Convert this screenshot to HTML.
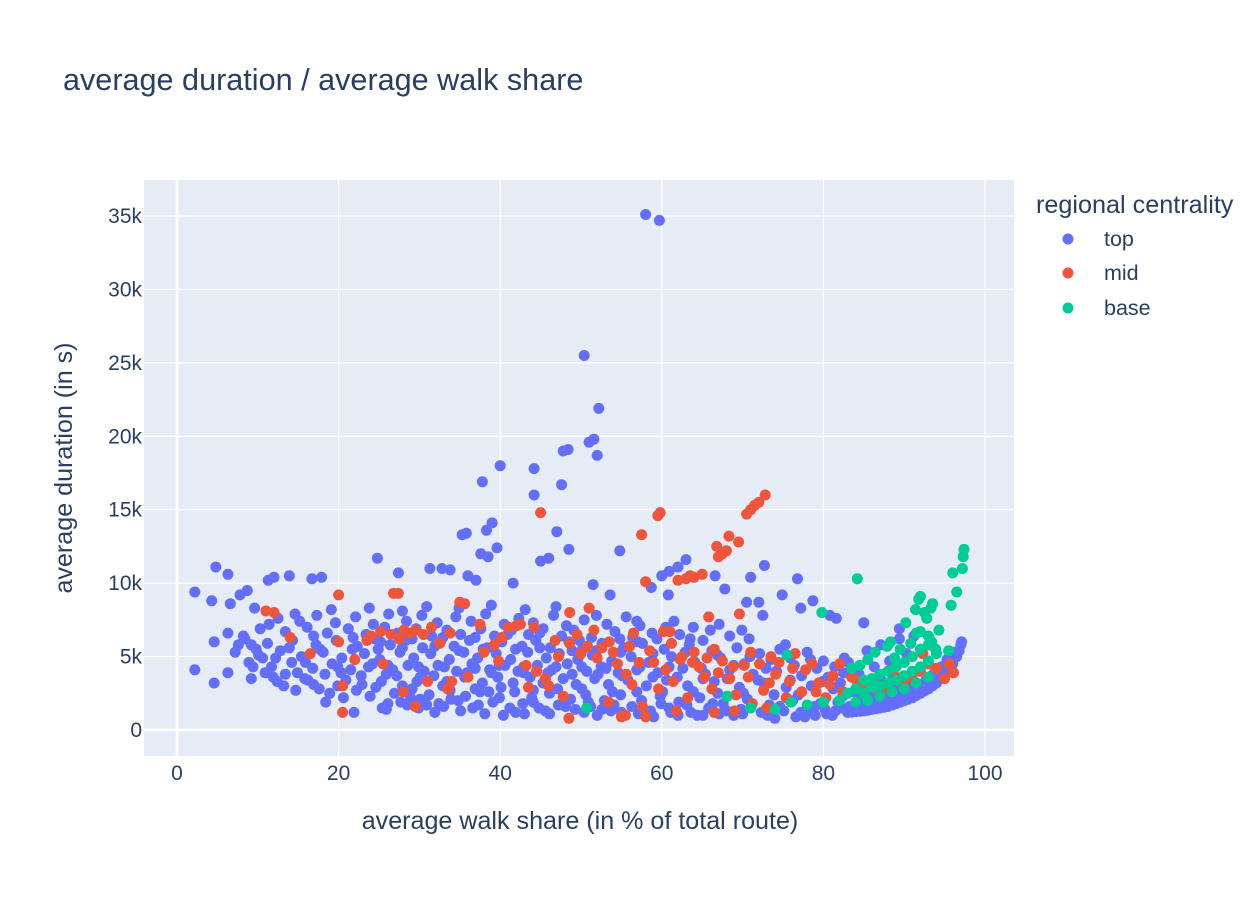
<!DOCTYPE html>
<html><head><meta charset="utf-8">
<style>
body{margin:0;background:#fff;font-family:"Liberation Sans",Arial,sans-serif;}
svg text{font-family:"Liberation Sans",Arial,sans-serif;fill:#2a3f5f;}
</style></head>
<body>
<svg id="chart" width="1260" height="900" xmlns="http://www.w3.org/2000/svg">
<rect width="1260" height="900" fill="#fff"/>
<text x="63" y="90" font-size="30.6">average duration / average walk share</text>
<rect x="144" y="180" width="870" height="576" fill="#e5ecf6"/>
<g id="grid"></g>
<g id="marks"></g>
<g id="ticks"></g>
<text x="580" y="829" font-size="25.1" text-anchor="middle">average walk share (in % of total route)</text>
<text transform="translate(72,468) rotate(-90)" font-size="25.1" text-anchor="middle">average duration (in s)</text>
<g>
<text x="1036" y="213" font-size="25.2">regional centrality</text>
<g><circle cx="1068" cy="239" r="5.5" fill="#636efa"/><text x="1104" y="246" font-size="21.5">top</text></g>
<g><circle cx="1068" cy="273" r="5.5" fill="#EF553B"/><text x="1104" y="280" font-size="21.5">mid</text></g>
<g><circle cx="1068" cy="308" r="5.5" fill="#00cc96"/><text x="1104" y="315" font-size="21.5">base</text></g>
</g>
</svg>
<script>
const xTicks=[0,20,40,60,80,100];
const yTicks=[0,5,10,15,20,25,30,35];
const yTickLabels=["0","5k","10k","15k","20k","25k","30k","35k"];
// values: [walk share %, duration in thousands of s]
const topPts=[[58,35.1],[59.7,34.7],[50.4,25.5],[52.2,21.9],[51.6,19.8],[51,19.6],[52,18.7],[48.4,19.1],[47.8,19],[40,18],[44.2,17.8],[47.6,16.7],[44.2,16],[37.8,16.9],[39,14.1],[38.3,13.6],[35.8,13.4],[35.3,13.3],[37.6,12],[39.6,12.4],[38.5,11.8],[47,13.5],[48.5,12.3],[46,11.7],[45,11.5],[54.8,12.2],[63,11.6],[62,11.1],[60,10.5],[60.9,10.8],[66.6,10.5],[71,10.4],[72.7,11.2],[76.8,10.3],[2.2,9.4],[4.8,11.1],[6.3,10.6],[4.3,8.8],[11.3,10.2],[12,10.4],[13.9,10.5],[16.7,10.3],[17.9,10.4],[24.8,11.7],[27.4,10.7],[31.3,11],[32.8,11],[33.8,10.9],[36,10.5],[37,10.2],[41.6,10],[51.5,9.9],[53.6,9.2],[58.7,9.7],[60.8,9.2],[67.8,9.6],[70.5,8.7],[72,8.7],[74.9,9.2],[77.2,8.3],[78.7,8.8],[80.8,7.8],[81.6,7.6],[85,7.3],[89.4,6.9],[2.2,4.1],[4.6,3.2],[4.6,6],[6.3,6.6],[6.3,3.9],[6.6,8.6],[7.8,9.2],[8.7,9.5],[9.6,8.3],[8.2,6.4],[9.2,5.8],[10.6,4.9],[9.2,3.5],[9.4,4.3],[10.9,3.9],[12.4,3.3],[13.2,3],[14.7,2.7],[16.2,3.4],[18.4,1.9],[20.6,2.2],[21.9,1.2],[25.4,1.5],[25.9,1.4],[28.5,1.7],[30.9,1.7],[33,1.6],[37.3,1.7],[38.6,2.6],[40.4,1],[43,1.1],[45.6,1.3],[50.4,1.2],[52,1],[55,1.2],[59,0.9],[62,1],[64.4,1],[68,1.3],[70,1.1],[74,0.8],[77.7,0.9],[79,1],[80.4,1.1],[81.5,1.3],[72.5,7.8],[66,6.8],[63.5,6.2],[57,6],[75.3,5.8],[78,5.3],[82.6,4.9],[80,4.7],
[12.5,7.6],[15.2,7.4],[17.3,7.8],[19.6,7.3],[22.1,7.7],[24.3,7.2],[26.2,7.9],[28.4,7.4],[30.3,7.8],[32.2,7.3],[34.5,7.7],[36.4,7.4],[38.2,7.9],[40.5,7.2],[42.3,7.6],[44.1,7.3],[46.6,7.8],[48.2,7.1],[50.4,7.5],[53.2,7.2],[55.6,7.7],[57.3,7.1],[60.5,7],
[10.3,6.9],[13.4,6.7],[16.1,7],[18.6,6.6],[21.2,6.9],[23.4,6.5],[25.7,7],[27.3,6.6],[29.6,6.9],[31.5,6.4],[33.4,6.8],[35.1,6.5],[37.6,6.9],[39.3,6.4],[41.4,6.8],[43.5,6.5],[45.3,6.9],[47.6,6.4],[49.1,6.8],[51.3,6.3],[54.2,6.7],[56.4,6.3],[58.8,6.6],[62.2,6.5],[65.1,6.1],[68.4,6.4],[70.8,6.2],
[8.4,6.2],[11.2,5.9],[14.3,6.1],[17.2,5.8],[19.7,6.1],[22.3,5.7],[24.5,6.2],[26.4,5.8],[28.3,6.1],[30.4,5.6],[32.6,6],[34.3,5.7],[36.2,6.1],[38.4,5.6],[40.2,6],[42.7,5.7],[44.4,6.1],[46.2,5.6],[48.5,6],[50.2,5.5],[52.6,5.9],[55.3,5.6],[57.6,5.9],[60.3,5.5],[63.4,5.8],[66.2,5.4],[69.3,5.6],[72.1,5.2],[74.6,5.5],
[7.2,5.3],[10.1,5.1],[12.8,5.4],[15.4,5],[18.1,5.3],[20.4,4.9],[23.2,5.2],[25.1,4.8],[27.6,5.3],[29.3,4.9],[31.4,5.2],[33.7,4.8],[35.5,5.3],[37.2,4.9],[39.5,5.2],[41.3,4.8],[43.4,5.3],[45.7,4.9],[47.3,5.2],[49.6,4.8],[51.4,5.1],[53.8,4.7],[56.2,5],[58.4,4.6],[61.2,5],[64.1,4.6],[67.3,4.9],[70.2,4.5],[73.5,4.8],[76.4,4.4],[79.2,4.2],
[8.9,4.6],[11.7,4.3],[14.2,4.6],[16.8,4.2],[19.2,4.5],[21.5,4.1],[24.2,4.5],[26.7,4.1],[28.6,4.4],[30.6,4],[32.3,4.4],[34.6,4],[36.5,4.5],[38.7,4.1],[40.6,4.4],[42.2,4],[44.6,4.4],[46.4,4.1],[48.3,4.5],[50.7,4],[52.5,4.3],[54.6,3.9],[57.3,4.3],[59.5,3.9],[62.6,4.2],[65.4,3.8],[68.4,4.1],[71.3,3.8],[74.2,4],[77.3,3.7],[80.6,3.6],[82.5,3.9],
[13.4,3.8],[15.8,3.5],[18.3,3.8],[20.9,3.4],[22.8,3.7],[25.3,3.3],[27.2,3.7],[29.7,3.3],[31.8,3.7],[33.4,3.3],[35.6,3.6],[37.8,3.2],[39.7,3.6],[41.6,3.2],[43.7,3.6],[45.3,3.2],[47.8,3.5],[49.4,3.1],[51.7,3.5],[53.4,3.1],[55.8,3.4],[58.1,3],[60.6,3.4],[63.2,3],[66.5,3.3],[69.6,2.9],[72.6,3.2],[75.4,2.9],[78.5,3],[81.2,2.8],
[17.6,2.8],[19.9,3],[22.2,2.7],[24.6,2.9],[26.9,2.5],[29.1,2.8],[31.2,2.4],[33.8,2.7],[35.7,2.3],[37.5,2.6],[39.9,2.2],[41.8,2.6],[43.9,2.2],[46.1,2.5],[48.7,2.1],[50.6,2.4],[52.9,2],[54.9,2.4],[57.5,2],[59.8,2.3],[62.1,1.9],[64.7,2.2],[67.6,1.8],[70.6,2.1],[73.3,1.7],[76.2,2],[78.9,1.6],[81.8,1.9],
[27.7,1.9],[30.1,2.1],[32.4,1.8],[34.8,2],[36.6,1.5],[39.1,1.9],[41.2,1.5],[42.8,1.8],[44.8,1.5],[47.2,1.7],[49.3,1.4],[51.2,1.6],[53.7,1.3],[56.3,1.6],[58.6,1.3],[60.9,1.5],[63.6,1.2],[65.8,1.5],[67.1,1.1],[69.8,1.4],[72.3,1.2],[75.1,1.3],[77.2,1.2],[80.2,1.4],[82.3,1.5],
[11.4,7.2],[14.6,7.9],[16.9,6.4],[19.1,8.2],[21.8,6.3],[23.8,8.3],[25.2,6],[27.9,8.1],[29.1,6.2],[30.9,8.4],[32.9,6.3],[34.9,8.3],[36.9,6.3],[38.9,8.5],[40.9,6.5],[43.1,8.2],[44.9,6.6],[46.9,8.4],[49.8,6.1],[51.9,7.8],[54.8,6.2],[56.9,7.4],[59.4,6.2],[61.5,7.4],[63.9,7],[67.1,7.2],[69.9,6.8],
[7.6,5.8],[9.8,5.5],[12.2,4.9],[13.9,5.6],[15.9,4.6],[17.7,5.5],[19.9,4.3],[21.7,5.5],[23.7,4.3],[24.9,5.5],[26.1,4.4],[27.9,5.6],[29.9,4.3],[31.9,5.7],[33.1,4.3],[34.9,5.4],[36.9,4.2],[37.9,5.5],[39.9,4.4],[41.9,5.5],[42.9,4.3],[44.9,5.6],[46.9,4.3],[48.9,5.4],[50.1,4.3],[51.9,5.4],[53.1,4.2],[54.9,5.3],[56.9,4.1],[58.9,5.2],[60.9,4.3],[62.9,5.3],[64.9,4.2],[66.9,5.1],[68.9,4.4],[70.9,5],[72.9,4.2],[75.9,4.9],[78.4,4.8],[81.4,4.3],
[11.9,3.6],[14.9,3.9],[16.9,3.1],[18.9,2.5],[20.3,3.9],[22.9,3.1],[23.9,2.3],[25.9,3.8],[27.9,3],[28.9,2.2],[30.1,3.6],[32.9,3],[33.9,2.1],[35.9,3.9],[36.9,2.8],[38.9,3.9],[40.1,2.9],[42.9,3.9],[44.1,2.7],[45.9,3.9],[47.1,2.8],[48.9,3.8],[50.1,2.8],[52.1,3.8],[53.9,2.6],[55.1,3.7],[56.9,2.6],[58.9,3.6],[60.1,2.6],[61.9,3.6],[63.9,2.6],[65.1,3.5],[66.9,2.5],[68.1,3.5],[70.1,2.5],[71.9,3.4],[73.9,2.4],[75.9,3.4],[76.9,2.4],[79.9,3.3],[82.1,3.2],
[26.1,1.8],[29.9,1.5],[31.9,1.2],[35.1,1.3],[38.1,1.1],[41.9,1.2],[44.1,1.9],[46.1,1.1],[48.1,1.6],[50.9,1.9],[52.6,1.4],[54.1,1.7],[57.1,1.1],[59.9,1.8],[61.1,1.2],[63.1,1.7],[65.1,1],[66.3,1.8],[68.9,1],[71.1,1.7],[73.1,1],[74.6,1.6],[76.6,0.9],[78.1,1.4],[79.6,1.8],[81.1,1],
[83,1.2],[83.5,1.22],[84,1.25],[84.5,1.28],[85,1.3],[85.5,1.35],[86,1.4],[86.5,1.45],[87,1.5],[87.5,1.55],[88,1.6],[88.5,1.7],[89,1.8],[89.5,1.9],[90,2],[90.5,2.1],[91,2.2],[91.5,2.35],[92,2.5],[92.5,2.65],[93,2.8],[93.5,3],[94,3.2],[94.5,3.5],[95,3.8],[95.5,4.1],[96,4.5],[96.5,5],[96.8,5.4],[97,5.8],[97.1,6],
[83.2,1.6],[84.3,1.7],[85.4,1.8],[86.6,1.9],[87.7,2.1],[88.8,2.3],[89.8,2.5],[90.8,2.8],[91.7,3.1],[92.7,3.4],[93.6,3.8],[94.6,4.3],[95.3,4.8],[96.1,5.3],[84.6,2.2],[86.2,2.4],[87.6,2.7],[89.1,3],[90.4,3.3],[82.4,2.3],[83.8,2.6],[85.2,2.9],[87.3,3.3],[88.6,3.7],[84.4,3.8],[86.3,4.3],[88.2,4.7],[90.3,5.2],[83.1,4.6],[85.4,5.4],[87.1,5.8],[89.4,6.2],[91.2,6.4]];
const midPts=[[45,14.8],[59.5,14.6],[59.8,14.8],[57.5,13.3],[62,10.2],[63,10.3],[63.5,10.5],[64,10.4],[65,10.6],[66.8,12.5],[67,11.8],[67.5,12],[68,12.2],[68.3,13.2],[69.5,12.8],[70.5,14.7],[71,15],[71.5,15.3],[72,15.5],[72.8,16],[58,10.1],[11,8.1],[20,9.2],[26.8,9.3],[27.4,9.3],[20,6],[20.5,3],[20.5,1.2],[29.5,1.6],[48.5,0.8],[55,0.9],[55.5,1],[58,0.9],[66.5,1.2],[69,1.3],[73,1.5],[69.6,7.9],[71,5.3],[65.8,7.7],[60.2,6.7],[51,8.3],[48.6,8],[35,8.7],[35.6,8.6],[42.5,7.2],[42,7.1],[41,7],[26.5,6.5],[27.5,6.2],[28.8,6.6],[29.5,6.8],[30.5,6.5],[31.5,7],[24,6.4],[23.5,6.1],[38,5.3],[39.8,4.7],[43.2,4.4],[44.5,4],[45.6,3.5],[47.2,5],[48.6,5.9],[49.5,6.5],[50.8,5.7],[52,4.9],[52.6,5.6],[53.5,6],[54.5,4.5],[55.6,3.8],[56.3,3.1],[57.2,4.6],[58.5,5.4],[59.6,2.8],[60.5,4.1],[61.4,3.3],[62.3,4.8],[63.2,2.2],[64.6,4.3],[65.3,3.6],[66.2,2.8],[67.5,4.7],[68.4,3.5],[69.2,2.4],[70.2,4.4],[71.2,1.8],[72.1,4.5],[73.3,3.2],[74.5,4.6],[75.4,2.2],[76.2,4.2],[77.3,2.6],[78.6,4.5],[79.4,3.2],[80.3,2.2],[81.2,3.7],[82.4,2.6],[83.5,3.6],[84.8,2.8],[86,3.1],[87,2.5],[88,2.9],[89,3.6],[90,3],[91,3.5],[92,4],[93,4.5],[94,4.2],[92.3,5.2],[95,3.5],[96.1,3.9],[95.6,4.5],[84.2,3.3],[31,3.3],[33.5,2.8],[36,3.6],[25.5,4.5],[22,4.8],[16.5,5.2],[14,6.3],[37.5,7.2],[40.2,6.3],[46,3],[56.5,6.6],[61,6.7],[62.5,5],[64,5.3],[66.5,5.5],[73.5,5],[76.5,5.2],[28,2.6],[34,3.3],[43.5,2.9],[47.8,2.3],[53.4,1.9],[57.6,1.6],[61.8,1.3],
[12,8],[25.2,6.7],[28.1,6.8],[32.5,5.9],[33.8,6.6],[39.3,5.8],[44.2,7],[46.8,6.1],[50,5.2],[51.6,6.8],[54,5.3],[56,5.7],[59,4.6],[61.2,5.9],[63.8,4.6],[65.6,4.9],[67,3.9],[68.8,4.3],[70.7,3.6],[72.6,2.7],[74.1,3.8],[75.8,3.3],[77.8,4.1],[79.1,2.6],[80.8,3.1],[82,4.5]];
const basePts=[[84.2,10.3],[79.8,8],[75.5,5.1],[50.7,1.5],[68.1,2.3],[71,1.5],[74,1.4],[76,1.9],[78,1.7],[80,1.9],[82,2],[96,10.7],[97.2,11],[97.3,11.8],[97.4,12.3],[96.5,9.4],[95.8,8.5],[93.5,8.6],[93.3,8.3],[92.5,8],[91.8,8.9],[92,9.1],[91.4,8.2],[90.2,7.3],[92.8,7.6],[94.3,6.8],[91.5,6.6],[92,6.7],[93,6.4],[93.4,6],[93.9,5.5],[95.5,5.4],[88.3,6],[87.9,5.7],[86.4,5.3],[85.5,4.8],[84.5,4.4],[83.5,4.2],[85,3.4],[86,3.5],[87,3.8],[88,4],[89,4.3],[90,4.6],[91,5],[92,5.5],[93,5.8],[84,2.8],[85,2.5],[86,2.9],[87,3],[88,3.2],[89,3.4],[90,3.7],[91,4],[92,4.3],[93,4.7],[94,5.2],[84,1.9],[85.5,2],[87,2.3],[88.5,2.6],[90,2.8],[91.5,3.2],[93,3.6],[83,2.5],[89.5,5.5],[90.8,5.9],[88.8,4.9]];

const X0=144,X1=1014,Y0=180,Y1=756;
const xs=v=>177+v*8.08;
const ys=v=>730-v*14.686;
const NS="http://www.w3.org/2000/svg";
const grid=document.getElementById('grid'),marks=document.getElementById('marks'),ticks=document.getElementById('ticks');
function mk(tag,attrs,parent){const e=document.createElementNS(NS,tag);for(const k in attrs)e.setAttribute(k,attrs[k]);parent.appendChild(e);return e;}
xTicks.forEach(t=>{
  const l=mk('line',{x1:xs(t),x2:xs(t),y1:Y0,y2:Y1,stroke:'#fff','stroke-width':t===0?2.5:1.2},grid);
  
  
  const tx=mk('text',{x:xs(t),y:780,'font-size':21,'text-anchor':'middle'},ticks);
  tx.textContent=t;
  
  
});
yTicks.forEach((t,i)=>{
  const l=mk('line',{x1:X0,x2:X1,y1:ys(t),y2:ys(t),stroke:'#fff','stroke-width':t===0?2.5:1.2},grid);
  
  
  const tx=mk('text',{x:142,y:ys(t)+7,'font-size':21,'text-anchor':'end'},ticks);
  tx.textContent=yTickLabels[i];
  
  
});
function series(pts,color,name){
  pts.forEach(p=>{
    const c=mk('circle',{cx:xs(p[0]).toFixed(1),cy:ys(p[1]).toFixed(1),r:5.5,fill:color},marks);
    
    
  });
}
series(topPts,'#636efa','point-top');
series(midPts,'#EF553B','point-mid');
series(basePts,'#00cc96','point-base');
</script>
</body></html>
